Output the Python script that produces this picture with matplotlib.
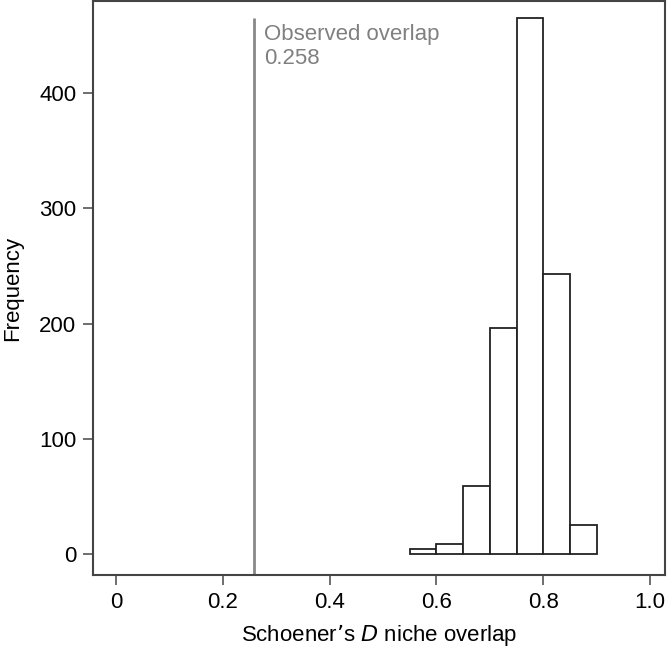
import matplotlib
matplotlib.use("Agg")
import matplotlib.pyplot as plt
import numpy as np

plt.rcParams['font.family'] = ['Liberation Sans', 'DejaVu Sans']

bin_edges = [0.55, 0.60, 0.65, 0.70, 0.75, 0.80, 0.85, 0.90]
counts = [4, 8, 59, 196, 465, 243, 25]
observed = 0.258
x_ticks = [0, 0.2, 0.4, 0.6, 0.8, 1.0]
x_tick_labels = ["0", "0.2", "0.4", "0.6", "0.8", "1.0"]
y_ticks = [0, 100, 200, 300, 400]

FS = 16
W, H = 667, 648
fig = plt.figure(figsize=(W / 100, H / 100), dpi=100)
ax = fig.add_axes([93 / W, 1 - 575 / H, (665 - 93) / W, (575 - 1) / H])

lefts = np.array(bin_edges[:-1])
widths = np.diff(bin_edges)
ax.bar(lefts, counts, width=widths, align='edge', facecolor='white',
       edgecolor='#222222', linewidth=1.3)

ax.plot([observed, observed], [-18.5, max(counts)], color='#888888', lw=2,
        solid_capstyle='butt')
ax.text(observed + 0.02, max(counts) - 5, "Observed overlap\n0.258", color='#808080',
        fontsize=FS, ha='left', va='top', linespacing=1.2)

ax.set_xlim(-0.043, 1.028)
ax.set_ylim(-18.5, 480.2)
ax.set_xticks(x_ticks)
ax.set_xticklabels(x_tick_labels)
ax.set_yticks(y_ticks)
ax.tick_params(axis='both', length=7, width=1.2, color='#555555', labelsize=FS,
               pad=5)
for s in ax.spines.values():
    s.set_color('#444444')
    s.set_linewidth(1.5)

ax.set_xlabel("Schoener\u2019s $\\mathit{D}$ niche overlap", fontsize=FS, labelpad=7)
ax.set_ylabel("Frequency", fontsize=FS, labelpad=8)
ax.yaxis.set_label_coords(-0.122, 0.5)

fig.savefig("out.png", dpi=100)
